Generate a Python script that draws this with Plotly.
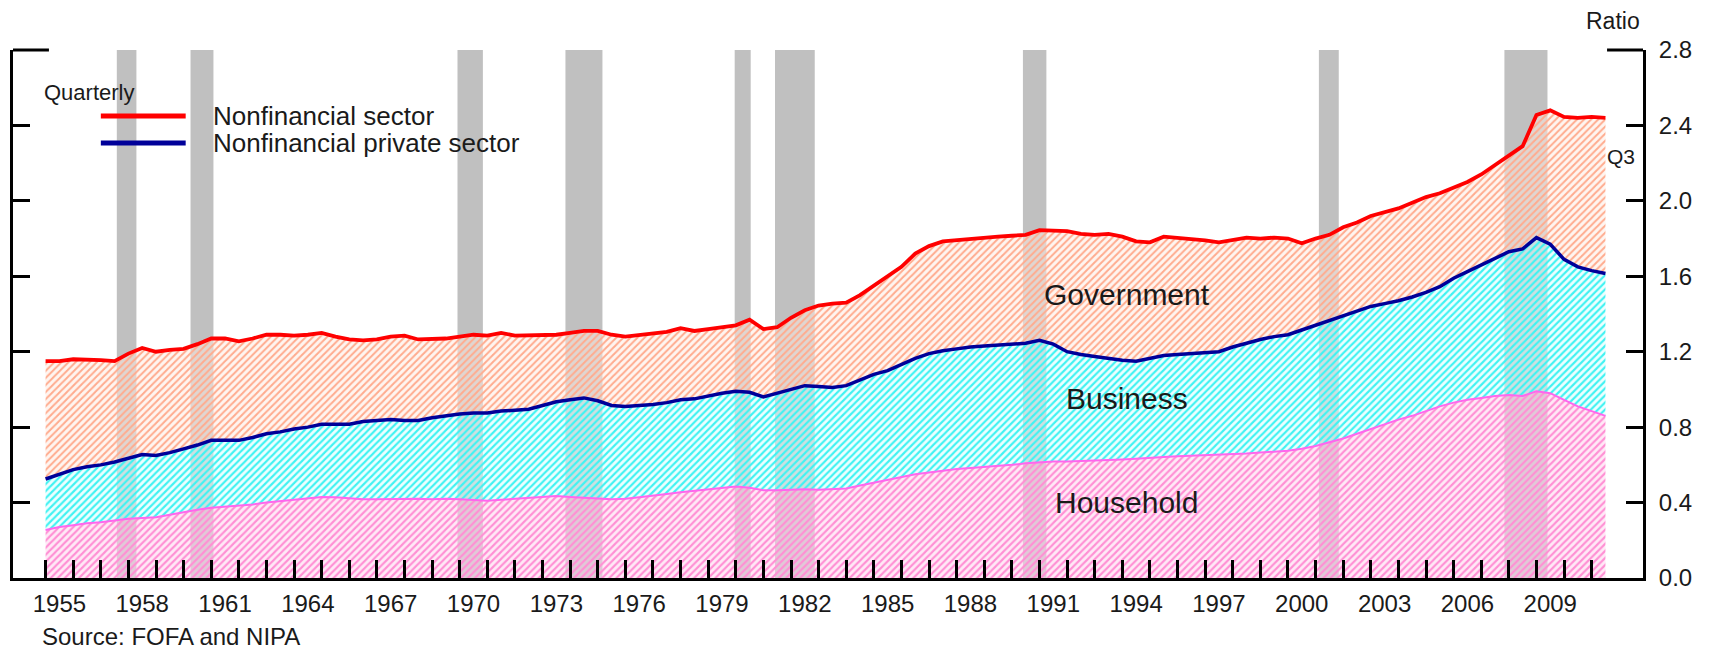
import plotly.graph_objects as go

# ---------------- data ----------------
years = [1955.0 + 0.5 * i for i in range(114)]  # 1955 H1 ... 2011 H2 (last = 2011 Q3)

household = [
    0.255, 0.27, 0.28, 0.29, 0.296, 0.305, 0.314, 0.318, 0.322, 0.335,
    0.35, 0.362, 0.373, 0.378, 0.382, 0.39, 0.40, 0.408, 0.415, 0.425,
    0.43, 0.428, 0.422, 0.418, 0.417, 0.418, 0.42, 0.42, 0.418, 0.42,
    0.418, 0.412, 0.41, 0.415, 0.42, 0.425, 0.43, 0.435, 0.43, 0.428,
    0.422, 0.418, 0.42, 0.428, 0.435, 0.445, 0.455, 0.462, 0.47, 0.48,
    0.485, 0.478, 0.465, 0.465, 0.468, 0.47, 0.468, 0.47, 0.475, 0.49,
    0.505, 0.52, 0.535, 0.55, 0.56, 0.57, 0.578, 0.583, 0.588, 0.594,
    0.60, 0.608, 0.615, 0.618, 0.618, 0.62, 0.622, 0.625, 0.628, 0.632,
    0.638, 0.642, 0.645, 0.648, 0.65, 0.652, 0.655, 0.66, 0.665, 0.67,
    0.675, 0.685, 0.70, 0.72, 0.74, 0.765, 0.79, 0.815, 0.84, 0.86,
    0.885, 0.91, 0.93, 0.945, 0.955, 0.965, 0.97, 0.965, 0.99, 0.98,
    0.945, 0.91, 0.885, 0.86,
]

private_sector = [
    0.525, 0.55, 0.575, 0.59, 0.60, 0.615, 0.635, 0.655, 0.65, 0.665,
    0.685, 0.705, 0.73, 0.73, 0.73, 0.745, 0.765, 0.775, 0.79, 0.80,
    0.815, 0.815, 0.815, 0.83, 0.835, 0.84, 0.835, 0.835, 0.85, 0.86,
    0.87, 0.875, 0.875, 0.885, 0.89, 0.895, 0.915, 0.935, 0.945, 0.955,
    0.94, 0.915, 0.91, 0.915, 0.92, 0.93, 0.945, 0.95, 0.965, 0.98,
    0.99, 0.985, 0.96, 0.98, 1.00, 1.02, 1.015, 1.01, 1.02, 1.05,
    1.08, 1.10, 1.13, 1.165, 1.19, 1.205, 1.215, 1.225, 1.23, 1.235,
    1.24, 1.245, 1.26, 1.24, 1.20, 1.185, 1.175, 1.165, 1.155, 1.15,
    1.165, 1.18, 1.185, 1.19, 1.195, 1.20, 1.225, 1.245, 1.265, 1.28,
    1.29, 1.315, 1.34, 1.365, 1.39, 1.415, 1.44, 1.455, 1.47, 1.49,
    1.515, 1.545, 1.59, 1.625, 1.66, 1.695, 1.73, 1.745, 1.805, 1.77,
    1.69, 1.65, 1.63, 1.615,
]

nonfinancial = [
    1.15, 1.15, 1.16, 1.16, 1.155, 1.15, 1.19, 1.22, 1.20, 1.21,
    1.215, 1.24, 1.27, 1.27, 1.255, 1.27, 1.29, 1.29, 1.285, 1.29,
    1.30, 1.28, 1.265, 1.26, 1.265, 1.28, 1.285, 1.265, 1.265, 1.27,
    1.28, 1.29, 1.285, 1.30, 1.285, 1.285, 1.29, 1.29, 1.30, 1.31,
    1.31, 1.29, 1.28, 1.29, 1.30, 1.305, 1.325, 1.31, 1.32, 1.33,
    1.34, 1.37, 1.32, 1.33, 1.38, 1.42, 1.445, 1.455, 1.46, 1.50,
    1.55, 1.60, 1.65, 1.72, 1.76, 1.785, 1.79, 1.795, 1.80, 1.81,
    1.815, 1.82, 1.845, 1.845, 1.84, 1.825, 1.82, 1.825, 1.81, 1.785,
    1.78, 1.81, 1.805, 1.80, 1.79, 1.78, 1.79, 1.805, 1.80, 1.805,
    1.80, 1.775, 1.80, 1.82, 1.86, 1.885, 1.92, 1.94, 1.96, 1.99,
    2.02, 2.04, 2.07, 2.10, 2.14, 2.19, 2.245, 2.29, 2.455, 2.48,
    2.445, 2.44, 2.445, 2.44,
]

recession_start = [1957.58, 1960.25, 1969.92, 1973.83, 1979.96, 1981.42, 1990.4, 2001.12, 2007.84]
recession_end = [1958.29, 1961.08, 1970.84, 1975.17, 1980.54, 1982.86, 1991.25, 2001.84, 2009.4]

year_ticks = list(range(1955, 2012))
label_years = list(range(1955, 2010, 3))
y_ticks = [0.0, 0.4, 0.8, 1.2, 1.6, 2.0, 2.4, 2.8]

# ---------------- layout geometry ----------------
# Page pixels of the plot area; the figure div sits 8px in from the page corner.
OFF = 8
W, H = 1712 - OFF, 650 - OFF
L, R, T, B = 10, 1643, 50, 578          # page coordinates
FONT = "Liberation Sans, Arial, sans-serif"
TXT = "#1a1a1a"


def pxx(x):
    return (x - L) / (R - L)


def pxy(y):
    return (B - y) / (B - T)


fig = go.Figure()

# stacked hatched areas
fig.add_trace(go.Scatter(
    x=years, y=household, mode="lines", line=dict(width=0, color="#ff66ee"),
    fill="tozeroy",
    fillpattern=dict(shape="/", fgcolor="#ff8fd4", bgcolor="rgba(255,212,238,0.5)",
                     size=5, solidity=0.42, fillmode="replace"),
    showlegend=False, hoverinfo="skip", name="Household"))
fig.add_trace(go.Scatter(
    x=years, y=private_sector, mode="lines", line=dict(width=0, color="#000099"),
    fill="tonexty",
    fillpattern=dict(shape="/", fgcolor="#40f2f2", bgcolor="rgba(220,255,255,0.5)",
                     size=5, solidity=0.42, fillmode="replace"),
    showlegend=False, hoverinfo="skip", name="Business"))
fig.add_trace(go.Scatter(
    x=years, y=nonfinancial, mode="lines", line=dict(width=0, color="#ff0000"),
    fill="tonexty",
    fillpattern=dict(shape="/", fgcolor="#ffab8e", bgcolor="rgba(255,236,226,0.5)",
                     size=5, solidity=0.4, fillmode="replace"),
    showlegend=False, hoverinfo="skip", name="Government"))

# boundary lines
fig.add_trace(go.Scatter(x=years, y=household, mode="lines",
                         line=dict(color="#ff66ee", width=2), showlegend=False,
                         name="Household"))
fig.add_trace(go.Scatter(x=years, y=private_sector, mode="lines",
                         line=dict(color="#000099", width=3.5), showlegend=False,
                         name="Nonfinancial private sector"))
fig.add_trace(go.Scatter(x=years, y=nonfinancial, mode="lines",
                         line=dict(color="#ff0000", width=3.8), showlegend=False,
                         name="Nonfinancial sector"))

shapes = []
for s, e in zip(recession_start, recession_end):
    shapes.append(dict(type="rect", xref="x", yref="paper", x0=s, x1=e, y0=0, y1=1,
                       fillcolor="#c0c0c0", line=dict(width=0), layer="below"))
# longer top ticks on both vertical axes
shapes.append(dict(type="line", xref="paper", yref="paper", x0=pxx(L), x1=pxx(L + 36),
                   y0=1, y1=1, line=dict(color="black", width=3)))
shapes.append(dict(type="line", xref="paper", yref="paper", x0=pxx(R - 36), x1=pxx(R),
                   y0=1, y1=1, line=dict(color="black", width=3)))
# legend samples
shapes.append(dict(type="line", xref="paper", yref="paper", x0=pxx(98), x1=pxx(183),
                   y0=pxy(116), y1=pxy(116), line=dict(color="#ff0000", width=5)))
shapes.append(dict(type="line", xref="paper", yref="paper", x0=pxx(98), x1=pxx(183),
                   y0=pxy(143), y1=pxy(143), line=dict(color="#000099", width=5)))


def ann(text, x, y, size, xanchor="left"):
    return dict(text=text, xref="paper", yref="paper", x=pxx(x), y=pxy(y),
                xanchor=xanchor, yanchor="middle", showarrow=False,
                font=dict(family=FONT, size=size, color=TXT))


annotations = [
    ann("Quarterly", 39, 92, 22),
    ann("Nonfinancial sector", 208, 116, 26),
    ann("Nonfinancial private sector", 208, 143, 26),
    ann("Government", 1126, 294, 30, "center"),
    ann("Business", 1126, 398, 30, "center"),
    ann("Household", 1126, 502, 30, "center"),
    ann("Ratio", 1613, 21, 23, "center"),
    ann("Q3", 1621, 156, 21, "center"),
    ann("Source: FOFA and NIPA", 37, 636, 24),
]

fig.update_layout(
    width=W, height=H,
    margin=dict(l=L - OFF, r=W - (R - OFF), t=T - OFF, b=H - (B - OFF), pad=0),
    paper_bgcolor="white", plot_bgcolor="white",
    font=dict(family=FONT, size=24, color=TXT),
    showlegend=False,
    shapes=shapes, annotations=annotations,
    xaxis=dict(
        range=[1953.82, 2012.86], showgrid=False, zeroline=False,
        showline=True, linecolor="black", linewidth=3,
        tickmode="array", tickvals=[y + 0.5 for y in label_years],
        ticktext=[str(y) for y in label_years], ticks="",
        ticklabelstandoff=2,
        tickfont=dict(family=FONT, size=24, color=TXT),
        minor=dict(tickmode="array", tickvals=year_ticks, ticks="inside",
                   ticklen=18, tickwidth=3, tickcolor="black", showgrid=False),
    ),
    yaxis=dict(
        range=[0, 2.8], side="right", showgrid=False, zeroline=False,
        showline=True, linecolor="black", linewidth=3, mirror="ticks",
        tickmode="array", tickvals=y_ticks, tickformat=".1f",
        ticks="inside", ticklen=17, tickwidth=3, tickcolor="black",
        ticklabelstandoff=8,
        tickfont=dict(family=FONT, size=24, color=TXT),
    ),
)

fig.write_html("out.html")
